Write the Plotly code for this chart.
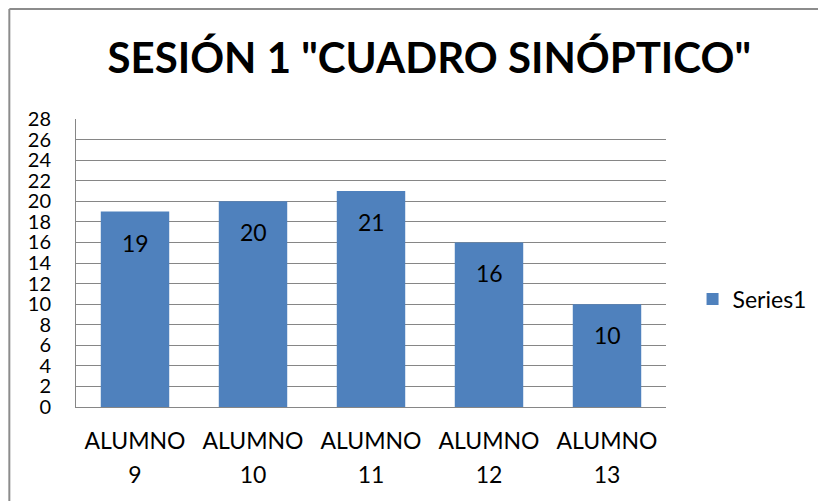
import plotly.graph_objects as go

categories = ["ALUMNO 9", "ALUMNO 10", "ALUMNO 11", "ALUMNO 12", "ALUMNO 13"]
values = [19, 20, 21, 16, 10]
series_name = "Series1"

tick_text = ['<span style="font-size:23px">%s<br>%s</span>' % tuple(c.split(" ")) for c in categories]

fig = go.Figure()
fig.add_trace(go.Bar(
    x=categories, y=values, name=series_name,
    marker=dict(color="#4F81BD", line=dict(width=0)),
    showlegend=True,
))

# value labels a bit below the bar tops, like the original
for c, v in zip(categories, values):
    fig.add_annotation(x=c, y=v, text=str(v), showarrow=False, yshift=-31,
                       font=dict(size=23, color="black"))

fig.update_layout(
    width=826, height=501,
    margin=dict(l=68, r=168, t=111, b=102),
    paper_bgcolor="white", plot_bgcolor="white",
    font=dict(family="Lato", color="black", size=20),
    bargap=0.42,
    title=dict(text="<b>SESIÓN 1 \"CUADRO SINÓPTICO\"</b>", x=0.51, xanchor="center",
               y=0.9, yanchor="middle", font=dict(size=42, family="Lato"), automargin=False),
    showlegend=True,
    legend=dict(x=1.045, y=0.375, xanchor="left", yanchor="middle",
                font=dict(size=23), itemwidth=30),
    shapes=[
        dict(type="line", xref="paper", yref="paper", x0=-0.113, x1=-0.113, y0=1.382, y1=-0.4,
             line=dict(color="#8c8c8c", width=2)),
        dict(type="line", xref="paper", yref="paper", x0=-0.113, x1=1.3, y0=1.382, y1=1.382,
             line=dict(color="#8c8c8c", width=2)),
    ],
)
fig.update_yaxes(range=[0, 28], dtick=2, showgrid=True, gridcolor="#868686", gridwidth=1,
                 showline=True, linecolor="#868686", linewidth=1, ticks="",
                 zeroline=False, tickfont=dict(size=20), ticklabelstandoff=20, automargin=False)
fig.update_xaxes(showline=True, linecolor="#868686", linewidth=1, ticks="",
                 tickmode="array", tickvals=categories, ticktext=tick_text,
                 tickfont=dict(size=26), ticklabelstandoff=10, automargin=False)

fig.write_html("out.html")
